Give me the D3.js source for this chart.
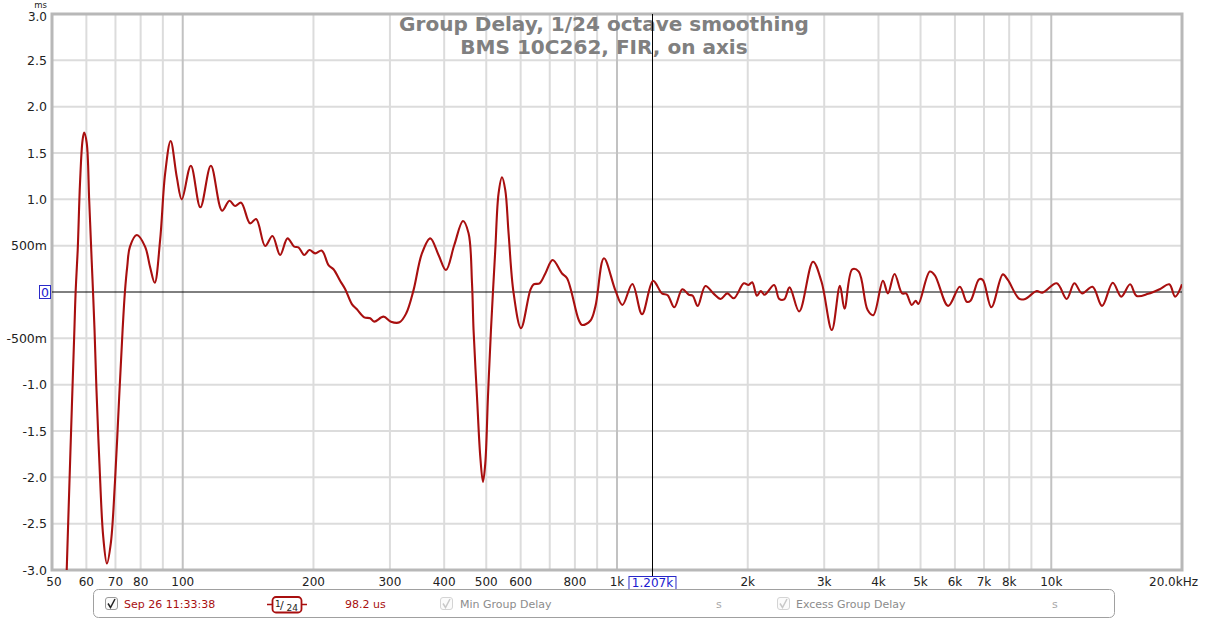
<!DOCTYPE html>
<html><head><meta charset="utf-8">
<script src="https://cdn.jsdelivr.net/npm/d3@7"></script>
<style>body{margin:0;background:#fff;} svg{display:block;font-family:"DejaVu Sans",sans-serif;}</style>
</head><body><svg id="c" width="1208" height="620"></svg>
<script>
// ---- data ----
const freqs = [54.06,55.15,56.3,56.67,57.3,58.0,58.8,59.3,60.1,60.9,61.7,62.15,62.65,63.3,64.3,65.6,66.9,68.3,69.8,71.4,72.7,73.6,74.5,75.6,78.4,81.9,84.1,86.2,88.7,91.1,93.8,96.9,99.5,104.4,109.8,116.1,123.2,128.1,132.0,136.3,142.9,147.6,154.8,160.9,167.6,174.3,180.6,184.7,190.4,195.8,201.8,209.1,216.6,222.4,230.5,236.7,245.2,251.8,261.8,270.2,276.0,290.0,301.6,315.6,327.1,340.0,355.5,371.5,388.2,403.8,422.0,441.9,455.2,463.6,467.4,476.0,484.4,491.3,497.4,504.5,512.6,524.4,533.7,543.4,553.0,562.8,577.9,601.1,631.5,642.6,663.4,683.8,710.9,747.2,767.3,816.0,830.8,868.1,891.6,933,991,1029,1085,1142,1211,1269,1308,1355,1414,1464,1494,1534,1598,1671,1733,1795,1858,1959,2008,2048,2100,2143,2187,2301,2363,2426,2497,2627,2827,2958,3124,3261,3341,3481,3603,3777,3892,4096,4206,4356,4535,4630,4772,4872,4942,5252,5394,5790,6158,6387,6517,6818,6956,7278,7735,7945,8444,8709,9256,9540,10296,10851,11303,11776,12444,13091,13855,14494,15188,15722,16722,17769,18697,19283,20000];
const delayMs = [-3.0,-1.70,-0.41,0,0.45,1.17,1.64,1.72,1.61,0.99,0.345,0,-0.41,-1.06,-1.85,-2.64,-2.93,-2.71,-2.06,-1.13,-0.41,0,0.27,0.49,0.615,0.49,0.27,0.10,0.56,1.28,1.63,1.24,1.00,1.363,0.914,1.363,0.877,0.985,0.928,0.964,0.741,0.788,0.496,0.604,0.40,0.579,0.489,0.482,0.40,0.453,0.417,0.446,0.29,0.245,0.119,0.03,-0.13,-0.187,-0.273,-0.284,-0.32,-0.266,-0.32,-0.327,-0.23,0.02,0.417,0.579,0.40,0.237,0.507,0.766,0.633,0.094,-0.41,-1.13,-1.78,-2.05,-1.85,-1.13,-0.41,0.45,1.065,1.238,1.10,0.633,-0.01,-0.39,0.02,0.083,0.094,0.20,0.345,0.20,0.148,-0.30,-0.356,-0.31,-0.158,0.365,0.02,-0.14,0.086,-0.24,0.12,-0.015,-0.035,-0.165,0.03,-0.03,-0.04,-0.15,0.065,-0.02,-0.075,-0.015,-0.068,0.094,0.075,0.105,-0.04,0.01,-0.03,0.075,-0.075,-0.08,0.05,-0.21,0.327,0.11,-0.41,0.068,-0.18,0.245,0.22,-0.195,-0.25,0.122,-0.015,0.195,-0.015,-0.015,-0.14,-0.094,-0.13,0.22,0.18,-0.15,0.057,-0.105,-0.094,0.137,0.13,-0.165,0.19,0.13,-0.075,-0.075,0.01,-0.007,0.094,-0.075,0.094,-0.015,0.057,-0.15,0.1,-0.05,0.083,-0.043,-0.02,0.03,0.083,-0.05,0.083];
const yTicks = [-3,-2.5,-2,-1.5,-1,-0.5,0,0.5,1,1.5,2,2.5,3];
const yTickLabels = ["-3.0","-2.5","-2.0","-1.5","-1.0","-500m","0","500m","1.0","1.5","2.0","2.5","3.0"];
const xTicks = [50,60,70,80,100,200,300,400,500,600,800,1000,2000,3000,4000,5000,6000,7000,8000,10000,20000];
const xTickLabels = ["50","60","70","80","100","200","300","400","500","600","800","1k","2k","3k","4k","5k","6k","7k","8k","10k","20.0kHz"];
const minorGrid = [60,70,80,90,200,300,400,500,600,700,800,900,2000,3000,4000,5000,6000,7000,8000,9000];
const majorGrid = [100,1000,10000];
const cursorFreq = 1207;
const cursorLabel = "1.207k";
const titleLines = ["Group Delay, 1/24 octave smoothing","BMS 10C262, FIR, on axis"];

// ---- layout ----
const L=52, R=1182, T=14, B=570;
const svg = d3.select("#c");
const x = d3.scaleLog().domain([50,20000]).range([L,R]);
const y = d3.scaleLinear().domain([-3,3]).range([B,T]);
const red = "#a80f0f";

// grid
const g = svg.append("g");
g.selectAll(".hg").data(yTicks.filter(v=>v!==0 && v!==3 && v!==-3)).join("line")
  .attr("x1",L).attr("x2",R).attr("y1",d=>y(d)).attr("y2",d=>y(d))
  .attr("stroke","#dcdcdc").attr("stroke-width",2);
g.selectAll(".vg").data(minorGrid).join("line")
  .attr("x1",d=>x(d)).attr("x2",d=>x(d)).attr("y1",T).attr("y2",B)
  .attr("stroke","#dcdcdc").attr("stroke-width",2);
g.selectAll(".vm").data(majorGrid).join("line")
  .attr("x1",d=>x(d)).attr("x2",d=>x(d)).attr("y1",T).attr("y2",B)
  .attr("stroke","#c2c2c2").attr("stroke-width",2);

// title
const tt = svg.append("g");
const t1 = tt.append("text").attr("x",604).attr("y",31).attr("text-anchor","middle")
  .attr("font-weight","bold").attr("fill","#808080").attr("font-size",20).text(titleLines[0]);
const w1 = t1.node().getComputedTextLength();
const fs = 20*410/w1;
t1.attr("font-size",fs);
tt.append("text").attr("x",604).attr("y",54).attr("text-anchor","middle")
  .attr("font-weight","bold").attr("fill","#808080").attr("font-size",fs).text(titleLines[1]);

// border
svg.append("rect").attr("x",L).attr("y",T).attr("width",R-L).attr("height",B-T)
  .attr("fill","none").attr("stroke","#b8b8b8").attr("stroke-width",3);

// zero line
svg.append("line").attr("x1",L).attr("x2",R).attr("y1",y(0)).attr("y2",y(0))
  .attr("stroke","#000").attr("stroke-width",1);
// cursor
svg.append("line").attr("x1",Math.round(x(cursorFreq))+0.5).attr("x2",Math.round(x(cursorFreq))+0.5)
  .attr("y1",T).attr("y2",577).attr("stroke","#000").attr("stroke-width",1);

// curve
svg.append("clipPath").attr("id","clip").append("rect").attr("x",L).attr("y",T).attr("width",R-L).attr("height",B-T);
const pts = freqs.map((f,i)=>({f, v:delayMs[i]}));
const line = d3.line().x(d=>x(d.f)).y(d=>y(d.v)).curve(d3.curveCatmullRom.alpha(0.5));
svg.append("path").datum(pts).attr("d",line).attr("clip-path","url(#clip)")
  .attr("fill","none").attr("stroke",red).attr("stroke-width",2.1).attr("stroke-linejoin","round");

// y axis labels
const ya = svg.append("g").attr("font-size",12.5).attr("fill","#222");
yTicks.forEach((v,i)=>{
  if(v===0) return;
  const top = v===3;
  ya.append("text").attr("x",47).attr("y",top?21.2:y(v)+4.5).attr("font-size",top?12:null)
    .attr("text-anchor","end").text(yTickLabels[i]);
});
svg.append("text").attr("x",47).attr("y",8).attr("text-anchor","end").attr("font-size",8.5).attr("fill","#222").text("ms");
// zero boxed
svg.append("rect").attr("x",39.5).attr("y",285.5).attr("width",11).attr("height",13).attr("fill","#fff").attr("stroke","#2a2ac8").attr("stroke-width",1);
svg.append("text").attr("x",45).attr("y",y(0)+4.5).attr("text-anchor","middle").attr("font-size",12.5).attr("fill","#1a1ad0").text(yTickLabels[6]);

// x axis labels
const xa = svg.append("g").attr("font-size",12).attr("fill","#222");
xTicks.forEach((f,i)=>{
  const last = i===xTicks.length-1;
  xa.append("text").attr("x",last?1198:x(f)+(i===0?2:0)).attr("y",586)
    .attr("text-anchor",last?"end":"middle").text(xTickLabels[i]);
});
const cx = x(cursorFreq);
svg.append("rect").attr("x",cx-23.5).attr("y",576.5).attr("width",47).attr("height",13).attr("fill","#fff").attr("stroke","#2a2ac8");
svg.append("text").attr("x",cx).attr("y",587).attr("text-anchor","middle").attr("font-size",12).attr("fill","#1a1ad0").text(cursorLabel);

// legend
const lg = svg.append("g").attr("font-size",11);
lg.append("rect").attr("x",93.5).attr("y",589.5).attr("width",1021).attr("height",28).attr("rx",5)
  .attr("fill","#fff").attr("stroke","#a0a0a0");
function checkbox(x0, col, box){
  lg.append("rect").attr("x",x0+0.5).attr("y",597.5).attr("width",12).attr("height",12).attr("rx",2.5)
    .attr("fill","#fbfbfb").attr("stroke",box);
  lg.append("path").attr("d",`M${x0+3},${603.5} L${x0+5.5},${607.5} L${x0+10},${599}`)
    .attr("fill","none").attr("stroke",col).attr("stroke-width",1.5);
}
checkbox(105,"#222","#9a9a9a");
lg.append("text").attr("x",124).attr("y",608).attr("fill",red).text("Sep 26 11:33:38");
lg.append("line").attr("x1",267).attr("x2",307).attr("y1",604.5).attr("y2",604.5).attr("stroke",red).attr("stroke-width",1.5);
lg.append("rect").attr("x",272.5).attr("y",597).attr("width",29).attr("height",15.5).attr("rx",3.5)
  .attr("fill","#fff").attr("stroke",red).attr("stroke-width",1.8);
lg.append("text").attr("x",275).attr("y",607).attr("font-size",9).attr("fill","#222").text("1");
lg.append("text").attr("x",280).attr("y",609).attr("font-size",11).attr("fill","#222").text("/");
lg.append("text").attr("x",286.5).attr("y",611).attr("font-size",9).attr("fill","#222").text("24");
lg.append("text").attr("x",345).attr("y",608).attr("fill",red).text("98.2 us");
checkbox(440,"#c8c8c8","#d4d4d4");
lg.append("text").attr("x",460).attr("y",608).attr("fill","#8c8c8c").text("Min Group Delay");
lg.append("text").attr("x",716).attr("y",608).attr("fill","#a8a8a8").text("s");
checkbox(777,"#c8c8c8","#d4d4d4");
lg.append("text").attr("x",796).attr("y",608).attr("fill","#8c8c8c").text("Excess Group Delay");
lg.append("text").attr("x",1052).attr("y",608).attr("fill","#a8a8a8").text("s");
</script></body></html>
